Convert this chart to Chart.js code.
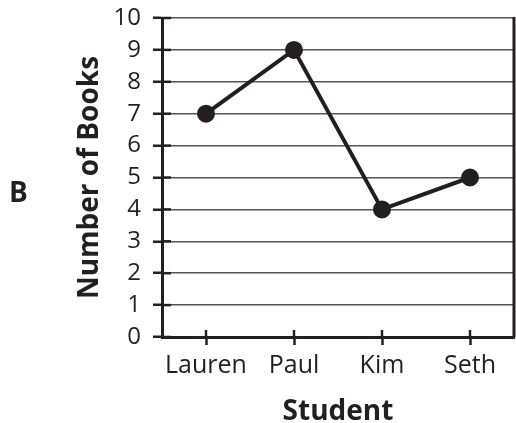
<!DOCTYPE html>
<html><head><meta charset="utf-8">
<script src="https://cdn.jsdelivr.net/npm/chart.js@4/dist/chart.umd.min.js"></script>
<style>
html,body{margin:0;padding:0;background:#fff;}
#wrap{position:relative;width:516px;height:423px;}
#lbl{position:absolute;left:9px;top:172px;font:bold 28px "Open Sans",sans-serif;color:#231f20;}
</style></head><body>
<div id="wrap"><canvas id="c" width="516" height="423"></canvas><div id="lbl">B</div></div>
<script>
const students = ["Lauren", "Paul", "Kim", "Seth"];
const books = [7, 9, 4, 5];
const yTicks = [0,1,2,3,4,5,6,7,8,9,10];

const ink = '#231f20';
const extras = {
  id: 'extras',
  afterDraw(chart) {
    const {ctx, chartArea} = chart;
    const xs = chart.scales.x;
    ctx.save();
    ctx.strokeStyle = ink;
    ctx.lineWidth = 3;
    ctx.beginPath();
    ctx.moveTo(chartArea.right, chartArea.top - 1);
    ctx.lineTo(chartArea.right, chartArea.bottom);
    ctx.stroke();
    ctx.lineWidth = 2.5;
    for (let i = 0; i < students.length; i++) {
      const x = xs.getPixelForTick(i);
      ctx.beginPath();
      ctx.moveTo(x, chartArea.bottom - 7);
      ctx.lineTo(x, chartArea.bottom);
      ctx.stroke();
    }
    const ys = chart.scales.y;
    for (const v of yTicks) {
      const y = ys.getPixelForValue(v);
      ctx.beginPath();
      ctx.moveTo(chartArea.left, y);
      ctx.lineTo(chartArea.left + 9, y);
      ctx.stroke();
    }
    ctx.restore();
  }
};

new Chart(document.getElementById('c'), {
  type: 'line',
  data: {
    labels: students,
    datasets: [{
      data: books,
      borderColor: ink,
      borderWidth: 4,
      backgroundColor: ink,
      pointBackgroundColor: ink,
      pointBorderColor: ink,
      pointRadius: 7,
      tension: 0
    }]
  },
  options: {
    responsive: false,
    animation: false,
    layout: {autoPadding: false, padding: {top: 18, right: 2, left: 73, bottom: 0}},
    plugins: {legend: {display: false}, tooltip: {enabled: false}},
    scales: {
      x: {
        offset: true,
        grid: {display: true, drawOnChartArea: false, tickLength: 8, tickColor: ink, tickWidth: 2.5, offset: false},
        border: {display: true, color: ink, width: 3},
        ticks: {color: ink, font: {family: 'Open Sans', size: 25}, padding: 6, autoSkip: false, maxRotation: 0},
        title: {display: true, text: 'Student', color: ink, font: {family: 'Open Sans', size: 28, weight: 'bold'}, padding: {top: 12, bottom: -6}},
        afterFit(s) { s.height = 86; s.paddingLeft = 0; s.paddingRight = 0; }
      },
      y: {
        min: 0, max: 10,
        afterBuildTicks(s) { s.ticks = yTicks.map(v => ({value: v})); },
        grid: {color: '#555555', lineWidth: 1.5, tickLength: 9, tickColor: ink, tickWidth: 2.5},
        border: {display: true, color: ink, width: 3},
        ticks: {color: ink, font: {family: 'Open Sans', size: 24}, padding: 12, autoSkip: false},
        title: {display: true, text: 'Number of Books', color: ink, font: {family: 'Open Sans', size: 28, weight: 'bold'}, padding: 0},
        afterFit(s) { s.width = 89; s.paddingTop = 0; s.paddingBottom = 0; }
      }
    }
  },
  plugins: [extras]
});
</script>
</body></html>
